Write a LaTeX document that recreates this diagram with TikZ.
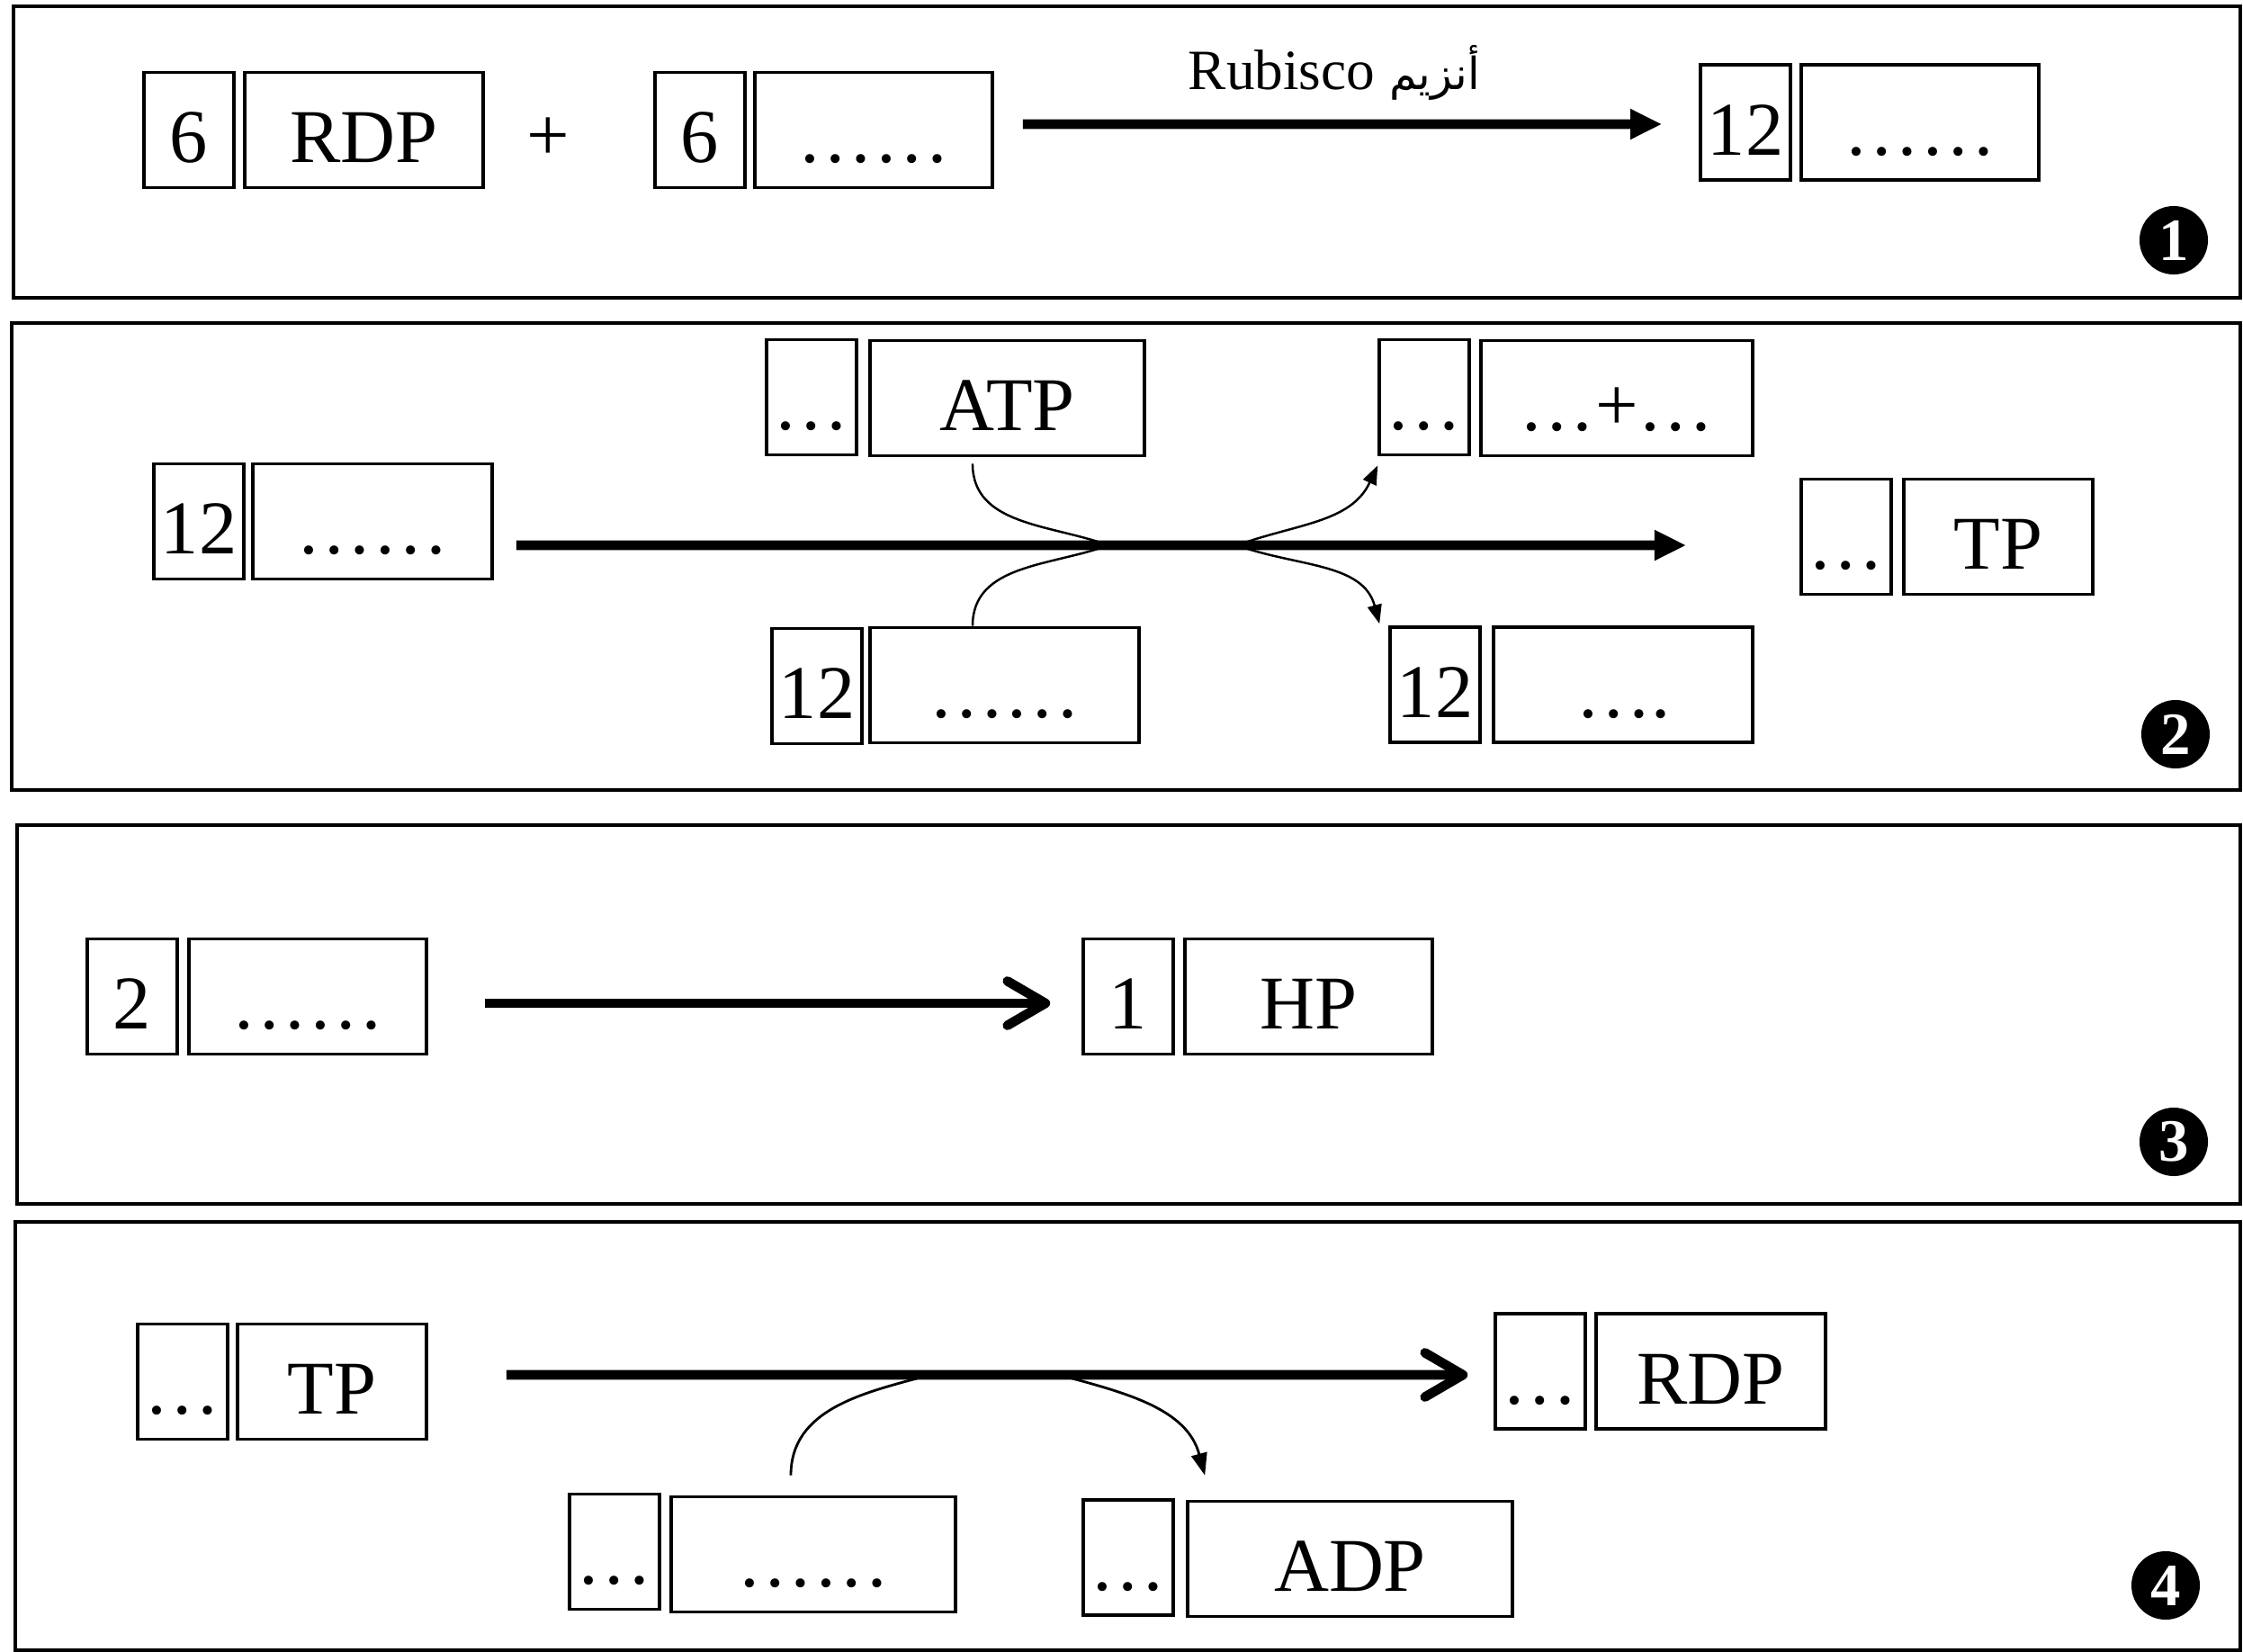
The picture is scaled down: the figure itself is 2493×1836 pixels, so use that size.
\documentclass[tikz,border=0pt]{standalone}
\usepackage{fontspec}
\setmainfont{Liberation Serif}
\newfontfamily\arabicfont[Script=Arabic]{DejaVu Sans}
\TeXXeTstate=1
\usetikzlibrary{arrows.meta}
\begin{document}
\begin{tikzpicture}[x=0.01cm,y=-0.01cm]
		\tikzstyle{cell}=[draw,line width=1pt,inner sep=0pt,minimum width=1cm,minimum height=1.28cm,text height=0.8cm,text depth=0.08cm,font=\fontsize{24}{28}\selectfont]
		\tikzstyle{badge}=[circle,fill=black,text=white,minimum size=0.76cm,inner sep=0pt,font=\fontsize{19}{20}\selectfont\bfseries]
		\tikzstyle{frame}=[line width=1.1pt]
		\tikzstyle{reaction}=[line width=3pt,-{Triangle[length=10pt,width=9pt]}]
		\tikzstyle{turn}=[line width=3pt,-{Straight Barb[length=12pt,width=14pt,round]}]
		\tikzstyle{side}=[line width=0.7pt,-{Triangle[length=6pt,width=4.5pt]}]
		\useasboundingbox (0,0) rectangle (2493,1836);
		% frames
		\draw[frame] (15,7) rectangle (2490,331);
		\draw[frame] (13,359) rectangle (2490,878);
		\draw[frame] (19,917) rectangle (2490,1338);
		\draw[frame] (17,1358) rectangle (2490,1834);
		% panel 1
		\node[cell] (a_1) at (210,144.5) {6};
		\node[cell,minimum width=2.65cm] (a_2) at (404.5,144.5) {RDP};
		\node[font=\fontsize{24}{28}\selectfont] (a_p) at (609,155) {+};
		\node[cell] (a_3) at (778,144.5) {6};
		\node[cell,minimum width=2.64cm] (a_4) at (971,144.5) {……};
		\node[cell] (a_5) at (1940,136) {12};
		\node[cell,minimum width=2.64cm] (a_6) at (2134,136) {……};
		\node[anchor=base,font=\fontsize{18}{20}\selectfont] (a_r) at (1483,99) {Rubisco {\arabicfont\fontsize{14}{16}\selectfont\beginR أنزيم\endR}};
		\draw[reaction] ([xshift=0.32cm,yshift=0.065cm]a_4.east) -- ([xshift=-0.41cm,yshift=-0.02cm]a_5.west);
		\node[badge] (n_1) at (2416,267) {1};
		% panel 2
		\node[cell] (b_1) at (221,579.5) {12};
		\node[cell,minimum width=2.66cm] (b_2) at (414,579.5) {……};
		\node[cell] (b_3) at (902,441.5) {…};
		\node[cell,minimum width=3.05cm] (b_4) at (1119.5,442.5) {ATP};
		\node[cell] (b_5) at (1583,441.5) {…};
		\node[cell,minimum width=3.02cm] (b_6) at (1797,442.5) {…+…};
		\node[cell] (b_7) at (908,762.5) {12};
		\node[cell,minimum width=2.99cm] (b_8) at (1116.5,761.5) {……};
		\node[cell] (b_9) at (1595,761) {12};
		\node[cell,minimum width=2.88cm] (b_10) at (1804,761) {….};
		\node[cell] (b_11) at (2052,596.5) {…};
		\node[cell,minimum width=2.1cm] (b_12) at (2221,596.5) {TP};
		\coordinate (m_1) at (1232,606);
		\coordinate (m_2) at (1375,606);
		\draw[line width=0.7pt] ([xshift=-0.385cm,yshift=-0.07cm]b_4.south) to[out=-90,in=160] (m_1);
		\draw[line width=0.7pt] ([xshift=-0.355cm]b_8.north) to[out=90,in=200] (m_1);
		\draw[side] (m_2) to[out=20,in=-115] ([yshift=-0.1cm]b_5.south west);
		\draw[side] (m_2) to[out=-20,in=105] ([xshift=-0.1cm,yshift=0.02cm]b_9.north west);
		\draw[reaction] ([xshift=0.25cm,yshift=-0.265cm]b_2.east) -- ([xshift=-1.26cm,yshift=-0.095cm]b_11.west);
		\node[badge] (n_2) at (2418,816) {2};
		% panel 3
		\node[cell] (c_1) at (147,1107.5) {2};
		\node[cell,minimum width=2.64cm] (c_2) at (342,1107.5) {……};
		\node[cell] (c_3) at (1254,1107.5) {1};
		\node[cell,minimum width=2.75cm] (c_4) at (1454.5,1107.5) {HP};
		\draw[turn] ([xshift=0.63cm,yshift=-0.075cm]c_2.east) -- ([xshift=-0.35cm,yshift=-0.075cm]c_3.west);
		\node[badge] (n_3) at (2416,1269) {3};
		% panel 4
		\node[cell] (d_1) at (203,1535.5) {…};
		\node[cell,minimum width=2.1cm] (d_2) at (369,1535.5) {TP};
		\node[cell] (d_3) at (1712,1524) {…};
		\node[cell,minimum width=2.55cm] (d_4) at (1901.5,1524) {RDP};
		\node[cell] (d_5) at (683,1724.5) {…};
		\node[cell,minimum width=3.16cm] (d_6) at (904,1727.5) {……};
		\node[cell] (d_7) at (1254,1731) {…};
		\node[cell,minimum width=3.61cm] (d_8) at (1500.5,1732.5) {ADP};
		\coordinate (q_1) at (1034,1528);
		\coordinate (q_2) at (1177,1528);
		\draw[line width=0.8pt,-{Triangle[length=7pt,width=5pt]}] ([xshift=-0.25cm,yshift=0.22cm]d_6.north) to[out=90,in=195] (q_1) -- (q_2) to[out=-15,in=105] ([xshift=0.21cm,yshift=0.27cm]d_8.north west);
		\draw[turn] ([xshift=0.87cm,yshift=0.075cm]d_2.east) -- ([xshift=-0.29cm,yshift=-0.04cm]d_3.west);
		\node[badge] (n_4) at (2407,1762) {4};
\end{tikzpicture}
\end{document}
